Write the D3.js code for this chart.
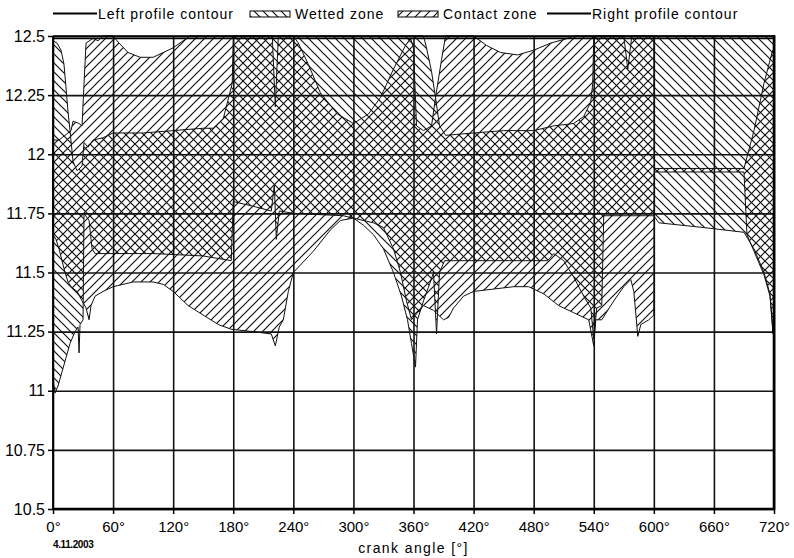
<!DOCTYPE html>
<html>
<head>
<meta charset="utf-8">
<script src="https://cdn.jsdelivr.net/npm/d3@7/dist/d3.min.js"></script>
<style>
body { margin: 0; background: #fff; }
text { font-family: "Liberation Sans", Arial, sans-serif; fill: #000; }
</style>
</head>
<body>
<script>
// axis ticks
const xTicks = [0, 60, 120, 180, 240, 300, 360, 420, 480, 540, 600, 660, 720];
const yTicks = [10.5, 10.75, 11, 11.25, 11.5, 11.75, 12, 12.25, 12.5];

// profile contours [crank angle, value]
const leftContour = [[0, 12.5], [720, 12.5]];
const rightContour = [[0, 12.49], [720, 12.49]];

// wetted zone, upper and lower edge
const wettedTop = [[0,12.48],[4,12.47],[8,12.44],[11,12.38],[13,12.28],[15,12.18],[17,12.1],[20,11.97],[24,11.93],[29,11.95],[31,12.05],[35,12.03],[40,12.06],[50,12.07],[60,12.09],[90,12.09],[120,12.1],[150,12.11],[160,12.11],[170,12.15],[176,12.25],[179,12.3],[180,12.5],[360,12.5],[370,12.5],[373,12.45],[378,12.35],[382,12.24],[386,12.12],[392,12.08],[420,12.09],[450,12.1],[480,12.1],[500,12.12],[520,12.13],[530,12.16],[537,12.22],[539,12.3],[540,12.5],[720,12.5]];
const wettedBottom = [[0,11.05],[2,10.99],[5,11.02],[9,11.08],[13,11.14],[17,11.2],[22,11.25],[25,11.27],[26,11.16],[27,11.28],[30,11.3],[31,11.75],[36,11.72],[39,11.6],[42,11.58],[100,11.58],[150,11.57],[178,11.55],[180,11.8],[200,11.78],[218,11.76],[221,11.87],[223,11.64],[226,11.76],[240,11.75],[290,11.74],[300,11.73],[310,11.7],[320,11.66],[330,11.6],[340,11.5],[348,11.4],[354,11.3],[358,11.2],[362,11.1],[364,11.3],[370,11.38],[376,11.45],[380,11.5],[383,11.24],[386,11.5],[391,11.55],[420,11.55],[494,11.55],[500,11.58],[510,11.55],[520,11.48],[530,11.4],[537,11.35],[540,11.22],[543,11.35],[548,11.36],[550,11.74],[600,11.74],[605,11.71],[650,11.69],[690,11.67],[700,11.6],[710,11.5],[716,11.41],[719,11.25],[720,11.39]];

// contact zone, upper and lower edge
const contactTop = [[0,12.06],[6,12.06],[12,12.08],[18,12.1],[20,12.14],[26,12.13],[29,12.12],[31,12.3],[33,12.47],[40,12.49],[45,12.48],[50,12.5],[60,12.5],[66,12.47],[75,12.43],[87,12.41],[100,12.41],[110,12.43],[120,12.45],[130,12.48],[137,12.5],[219,12.5],[222,12.2],[225,12.5],[240,12.5],[245,12.47],[255,12.38],[267,12.26],[284,12.17],[300,12.13],[315,12.17],[327,12.24],[340,12.36],[352,12.46],[357,12.49],[360,12.45],[363,12.12],[370,12.1],[378,12.12],[382,12.24],[388,12.4],[392,12.5],[420,12.5],[433,12.46],[447,12.43],[464,12.42],[480,12.44],[497,12.47],[514,12.49],[520,12.5],[570,12.5],[574,12.36],[578,12.5],[600,12.5],[600.5,11.94],[690,11.94],[700,12.1],[710,12.3],[718,12.43],[720,12.45]];
const contactBottom = [[0,11.66],[3,11.64],[6,11.6],[9,11.55],[12,11.5],[15,11.46],[18,11.44],[24,11.42],[29,11.38],[33,11.35],[36,11.3],[38,11.36],[42,11.4],[50,11.42],[60,11.44],[80,11.46],[100,11.46],[110,11.45],[120,11.42],[135,11.36],[150,11.32],[165,11.28],[178,11.26],[200,11.25],[218,11.24],[222,11.19],[226,11.27],[230,11.3],[235,11.42],[240,11.5],[260,11.59],[277,11.68],[287,11.72],[300,11.73],[320,11.71],[330,11.69],[340,11.6],[347,11.5],[353,11.38],[358,11.3],[362,11.32],[370,11.36],[380,11.34],[390,11.3],[395,11.31],[400,11.35],[410,11.4],[420,11.42],[440,11.43],[460,11.44],[475,11.44],[490,11.41],[505,11.36],[520,11.33],[535,11.3],[540,11.19],[542,11.3],[548,11.3],[560,11.38],[570,11.44],[577,11.47],[580,11.42],[584,11.23],[587,11.28],[595,11.3],[600,11.32],[600.5,11.925],[690,11.925],[693,11.66],[700,11.59],[710,11.49],[716,11.4],[719,11.24],[720,11.38]];

const width = 794, height = 558;
const plot = { left: 53, right: 774, top: 36, bottom: 509 };

const svg = d3.select("body").append("svg")
    .attr("width", width)
    .attr("height", height);

const x = d3.scaleLinear().domain([0, 720]).range([plot.left, plot.right]);
const y = d3.scaleLinear().domain([10.5, 12.5]).range([plot.bottom, plot.top]);

// hatch patterns
const defs = svg.append("defs");
function hatch(id, forward) {
    let p = defs.append("pattern")
        .attr("id", id)
        .attr("patternUnits", "userSpaceOnUse")
        .attr("width", 9)
        .attr("height", 9);
    p.append("path")
        .attr("d", forward ? "M-2,2 L2,-2 M0,9 L9,0 M7,11 L11,7" : "M-2,7 L2,11 M0,0 L9,9 M7,-2 L11,2")
        .attr("stroke", "#111")
        .attr("stroke-width", 1.2);
}
hatch("wetHatch", false);
hatch("contactHatch", true);

// grid
svg.append("g")
    .attr("transform", "translate(0," + plot.bottom + ")")
    .call(d3.axisBottom(x).tickValues(xTicks).tickSize(-(plot.bottom - plot.top)).tickFormat(""))
    .call(g => g.select(".domain").remove())
    .selectAll("line").attr("stroke", "#111").attr("stroke-width", 1.6);

svg.append("g")
    .attr("transform", "translate(" + plot.left + ",0)")
    .call(d3.axisLeft(y).tickValues(yTicks).tickSize(-(plot.right - plot.left)).tickFormat(""))
    .call(g => g.select(".domain").remove())
    .selectAll("line").attr("stroke", "#111").attr("stroke-width", 1.6);

let line = d3.line().x(d => x(d[0])).y(d => y(d[1]));
function band(top, bottom) {
    return line(top.concat(bottom.slice().reverse())) + "Z";
}

svg.append("path")
    .attr("d", band(wettedTop, wettedBottom))
    .attr("fill", "url(#wetHatch)")
    .attr("stroke", "#111")
    .attr("stroke-width", 1);

svg.append("path")
    .attr("d", band(contactTop, contactBottom))
    .attr("fill", "url(#contactHatch)")
    .attr("stroke", "#111")
    .attr("stroke-width", 1);

svg.append("path").attr("d", line(leftContour)).attr("stroke", "#000").attr("stroke-width", 1.6).attr("fill", "none");
svg.append("path").attr("d", line(rightContour)).attr("stroke", "#000").attr("stroke-width", 1.6).attr("fill", "none");

// frame
svg.append("line").attr("x1", plot.left).attr("x2", plot.left).attr("y1", plot.top).attr("y2", plot.bottom).attr("stroke", "#000").attr("stroke-width", 1.8);
svg.append("line").attr("x1", plot.right).attr("x2", plot.right).attr("y1", plot.top - 1).attr("y2", plot.bottom + 1).attr("stroke", "#000").attr("stroke-width", 2.6);
svg.append("line").attr("x1", plot.left).attr("x2", plot.right).attr("y1", plot.bottom).attr("y2", plot.bottom).attr("stroke", "#000").attr("stroke-width", 2.4);

// axes
let xAxis = svg.append("g")
    .attr("transform", "translate(0," + plot.bottom + ")")
    .call(d3.axisBottom(x).tickValues(xTicks).tickSize(5).tickPadding(7).tickFormat(d => d + "°"));
xAxis.select(".domain").remove();
xAxis.selectAll("line").attr("stroke", "#000").attr("stroke-width", 1.5);
xAxis.selectAll("text").style("font-size", "15px").style("font-family", "'Liberation Sans', Arial, sans-serif").attr("fill", "#000");

let yAxis = svg.append("g")
    .attr("transform", "translate(" + plot.left + ",0)")
    .call(d3.axisLeft(y).tickValues(yTicks).tickSize(5).tickPadding(3).tickFormat(d => String(+d.toFixed(2))));
yAxis.select(".domain").remove();
yAxis.selectAll("line").attr("stroke", "#000").attr("stroke-width", 1.5);
yAxis.selectAll("text").style("font-size", "16px").style("font-family", "'Liberation Sans', Arial, sans-serif").attr("fill", "#000");

svg.append("text")
    .attr("x", x(360))
    .attr("y", 553)
    .attr("text-anchor", "middle")
    .style("font-size", "14px")
    .style("letter-spacing", "1.4px")
    .text("crank angle [°]");

svg.append("text")
    .attr("x", 53)
    .attr("y", 548)
    .style("font-size", "10px")
    .style("font-weight", "bold")
    .style("font-family", "'Liberation Sans Narrow', 'Arial Narrow', sans-serif")
    .style("letter-spacing", "-0.4px")
    .text("4.11.2003");

// legend
let legendItems = [
    { label: "Left profile contour", kind: "line", x: 53 },
    { label: "Wetted zone", kind: "wetHatch", x: 250 },
    { label: "Contact zone", kind: "contactHatch", x: 398 },
    { label: "Right profile contour", kind: "line", x: 547 }
];
let legend = svg.append("g");
legendItems.forEach(function(item) {
    if (item.kind == "line") {
        legend.append("line")
            .attr("x1", item.x).attr("x2", item.x + 44)
            .attr("y1", 13.5).attr("y2", 13.5)
            .attr("stroke", "#000").attr("stroke-width", 2);
    } else {
        legend.append("rect")
            .attr("x", item.x).attr("y", 11)
            .attr("width", 40).attr("height", 6)
            .attr("fill", "url(#" + item.kind + ")")
            .attr("stroke", "#000").attr("stroke-width", 1);
    }
    legend.append("text")
        .attr("x", item.x + 45)
        .attr("y", 19)
        .style("font-size", "14px")
        .style("letter-spacing", "1px")
        .text(item.label);
});
</script>
</body>
</html>
